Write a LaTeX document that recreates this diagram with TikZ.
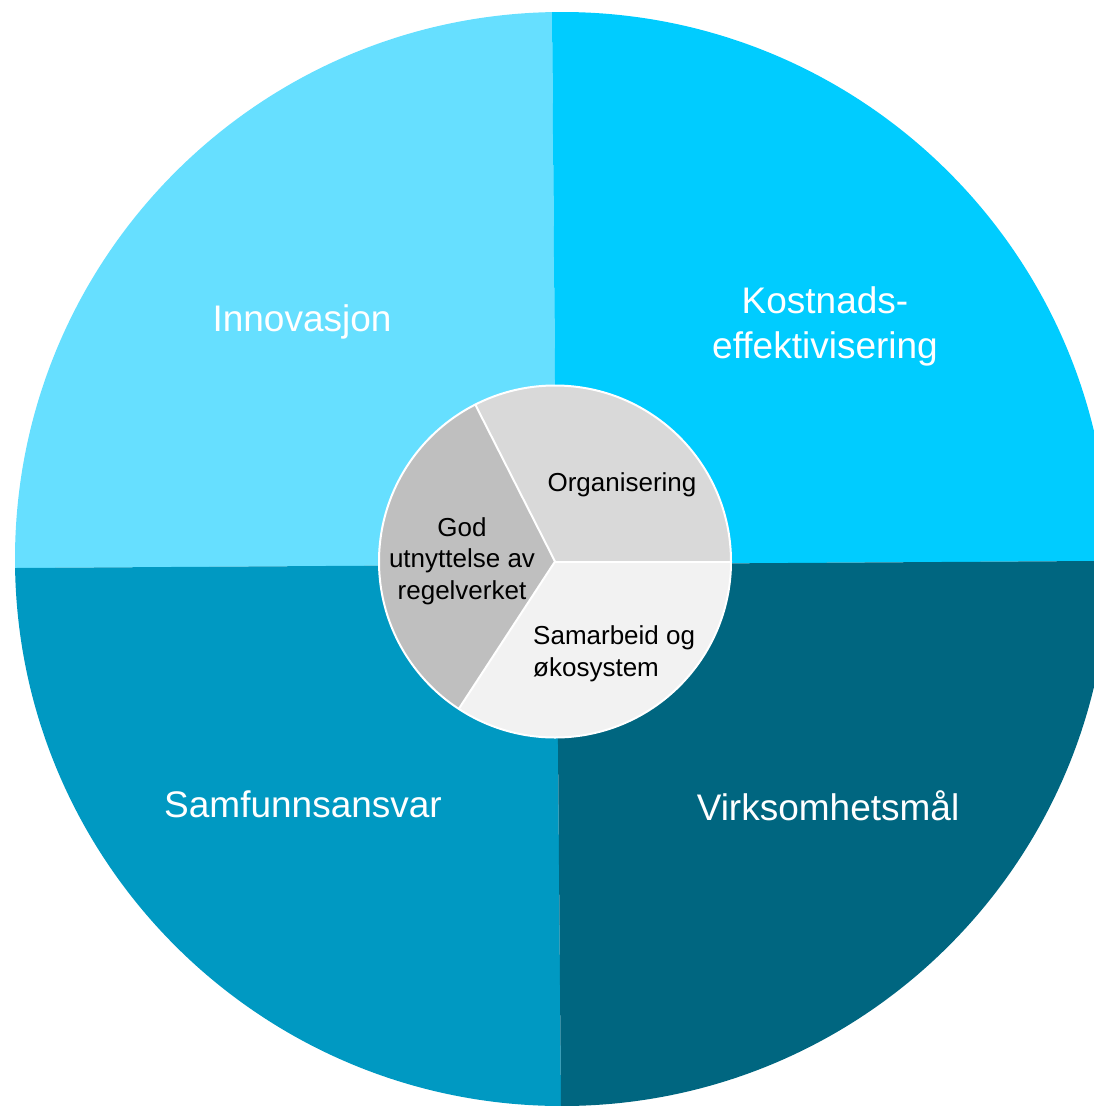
\documentclass[tikz,border=0pt]{standalone}
\usepackage{fontspec}
\setmainfont{Liberation Sans}
\definecolor{cInno}{HTML}{66DFFF}
\definecolor{cKost}{HTML}{00CCFF}
\definecolor{cSamf}{HTML}{0099C2}
\definecolor{cVirk}{HTML}{006680}
\definecolor{gOrg}{HTML}{D9D9D9}
\definecolor{gGod}{HTML}{BFBFBF}
\definecolor{gSam}{HTML}{F2F2F2}
\begin{document}
\begin{tikzpicture}[x=1pt,y=-1pt,
  outerlbl/.style={text=white,font=\fontsize{37}{44.5}\selectfont,align=center,inner sep=0pt},
  innerlbl/.style={text=black,font=\fontsize{26}{31.5}\selectfont,inner sep=0pt},
  divider/.style={draw=white,line width=2pt,line cap=round}]
\useasboundingbox (0,0) rectangle (1094,1106);
% outer quadrants
\begin{scope}
  \clip (562,559) circle[radius=547pt];
  \coordinate (qc) at (556.5,564.5);
  \fill[cInno] (0,0) -- (551.9,0) -- (qc) -- (0,568.1) -- cycle;
  \fill[cKost] (551.9,0) -- (1094,0) -- (1094,561) -- (qc) -- cycle;
  \fill[cSamf] (0,568.1) -- (qc) -- (561,1106) -- (0,1106) -- cycle;
  \fill[cVirk] (qc) -- (1094,561) -- (1094,1106) -- (561,1106) -- cycle;
\end{scope}
% inner pie
\coordinate (pc) at (555,561.5);
\coordinate (p1) at (475.3,404.6);
\coordinate (p2) at (458.8,708.8);
\coordinate (p3) at (731,561.5);
\begin{scope}
  \clip (pc) circle[radius=176pt];
  \fill[gOrg] (pc) -- (955,561.5) -- (955,100) -- (373.8,100) -- (373.8,204.9) -- cycle;
  \fill[gGod] (pc) -- (373.8,204.9) -- (300,200) -- (300,900) -- (336.4,896.4) -- cycle;
  \fill[gSam] (pc) -- (336.4,896.4) -- (336.4,950) -- (955,950) -- (955,561.5) -- cycle;
\end{scope}
\draw[divider] (pc) -- (p1);
\draw[divider] (pc) -- (p2);
\draw[divider] (pc) -- (p3);
\draw[white,line width=2pt] (pc) circle[radius=176pt];
% labels
\node[outerlbl,anchor=base] (inno) at (302,331) {Innovasjon};
\node[outerlbl,anchor=base] (kost) at (825,358) {Kostnads-\\effektivisering};
\node[outerlbl,anchor=base] (samf) at (303,817) {Samfunnsansvar};
\node[outerlbl,anchor=base] (virk) at (828,820) {Virksomhetsmål};
\node[innerlbl,anchor=base] (org) at (622,491) {Organisering};
\node[innerlbl,align=center,anchor=base] (god) at (462,599) {God\\utnyttelse av\\regelverket};
\node[innerlbl,align=left,anchor=base west] (sam) at (533,676) {Samarbeid og\\økosystem};
\end{tikzpicture}
\end{document}
